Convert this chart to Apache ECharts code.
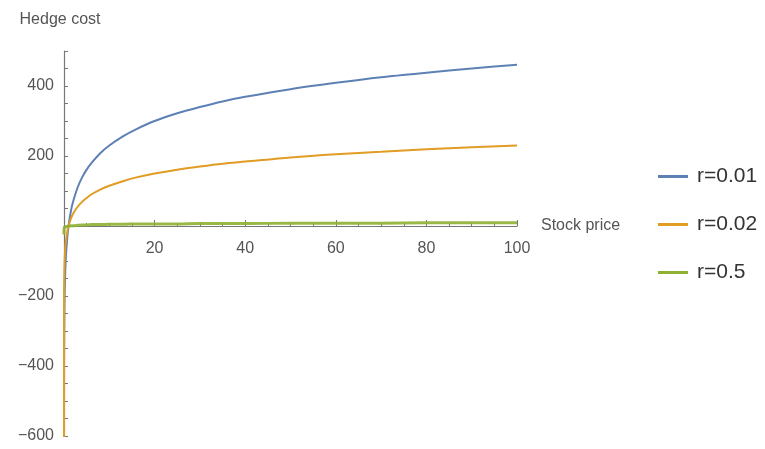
<!DOCTYPE html>
<html><head><meta charset="utf-8">
<script src="https://cdn.jsdelivr.net/npm/echarts@6/dist/echarts.min.js"></script>
<style>html,body{margin:0;padding:0;background:#fff}#c{width:765px;height:449px}</style>
</head><body><div id="c"></div>
<script>
const stockPrice = [0.000005, 0.002, 0.01, 0.03, 0.1, 0.2, 0.4, 0.7, 1, 1.5, 2, 3, 4, 5, 6, 8, 10, 13, 16, 20, 25, 30, 35, 40, 50, 60, 70, 80, 90, 100];
const costR001 = [-1220, -621, -461, -351, -230, -161, -92, -36, 0, 41, 69, 110, 139, 161, 179, 208, 230, 256, 277, 300, 322, 340, 356, 369, 391, 409, 425, 438, 450, 461];
const costR002 = [-610, -311, -230, -175, -115, -80, -46, -18, 0, 20, 35, 55, 69, 80, 90, 104, 115, 128, 139, 150, 161, 170, 178, 184, 196, 205, 212, 219, 225, 230];
const costR05 = [-24, -12, -9, -7, -5, -3, -2, -1, 0, 1, 1, 2, 3, 3, 4, 4, 5, 5, 6, 6, 6, 7, 7, 7, 8, 8, 8, 9, 9, 9];
const seriesNames = ['r=0.01', 'r=0.02', 'r=0.5'];
const colors = ['#5E81B5', '#E19C24', '#8FB032'];

const pair = arr => stockPrice.map((x, i) => [x, arr[i]]);
const font = '"Liberation Sans", Arial, sans-serif';
const chart = echarts.init(document.getElementById('c'), null, {renderer: 'canvas'});
chart.setOption({
  animation: false,
  color: colors,
  grid: {left: 64, right: 248, top: 51, bottom: 13, containLabel: false, outerBoundsMode: 'none'},
  xAxis: {
    type: 'value', min: 0, max: 100, interval: 20,
    offset: -210,
    name: 'Stock price', nameLocation: 'end', nameGap: 24,
    nameTextStyle: {color: '#555', fontSize: 16, fontFamily: font},
    axisLine: {onZero: false, lineStyle: {color: '#777', width: 1.2}},
    axisTick: {inside: true, length: 6, lineStyle: {color: '#777'}},
    minorTick: {show: true, splitNumber: 4, length: 3, lineStyle: {color: '#777'}},
    axisLabel: {color: '#555', fontSize: 16, fontFamily: font, margin: 15,
      formatter: v => v > 0 ? String(v) : ''},
    splitLine: {show: false}
  },
  yAxis: {
    type: 'value', min: -600, max: 500, interval: 50,
    name: 'Hedge cost', nameLocation: 'end', nameGap: 23,
    nameTextStyle: {color: '#555', fontSize: 16, fontFamily: font, align: 'center', padding: [0, 8, 0, 0]},
    axisLine: {onZero: false, lineStyle: {color: '#777', width: 1.2}},
    axisTick: {inside: true, length: 4, lineStyle: {color: '#777'}},
    axisLabel: {color: '#555', fontSize: 16, fontFamily: font, margin: 10,
      formatter: v => (v % 200 === 0 && v !== 0) ? (v < 0 ? '\u2212' + Math.abs(v) : String(v)) : ''},
    splitLine: {show: false}
  },
  legend: {
    orient: 'vertical', left: 653, top: 161, itemGap: 27,
    icon: 'rect', itemWidth: 30, itemHeight: 3,
    textStyle: {color: '#333', fontSize: 21, fontFamily: font, padding: [0, 0, 0, 4]},
    data: seriesNames
  },
  series: [
    {name: seriesNames[0], type: 'line', data: pair(costR001), smooth: 0.3, showSymbol: false, symbol: 'none', lineStyle: {width: 2}, clip: true},
    {name: seriesNames[1], type: 'line', data: pair(costR002), smooth: 0.3, showSymbol: false, symbol: 'none', lineStyle: {width: 2}, clip: true},
    {name: seriesNames[2], type: 'line', data: pair(costR05), smooth: 0.3, showSymbol: false, symbol: 'none', lineStyle: {width: 3, opacity: 0.9}, clip: true}
  ]
});
</script></body></html>
